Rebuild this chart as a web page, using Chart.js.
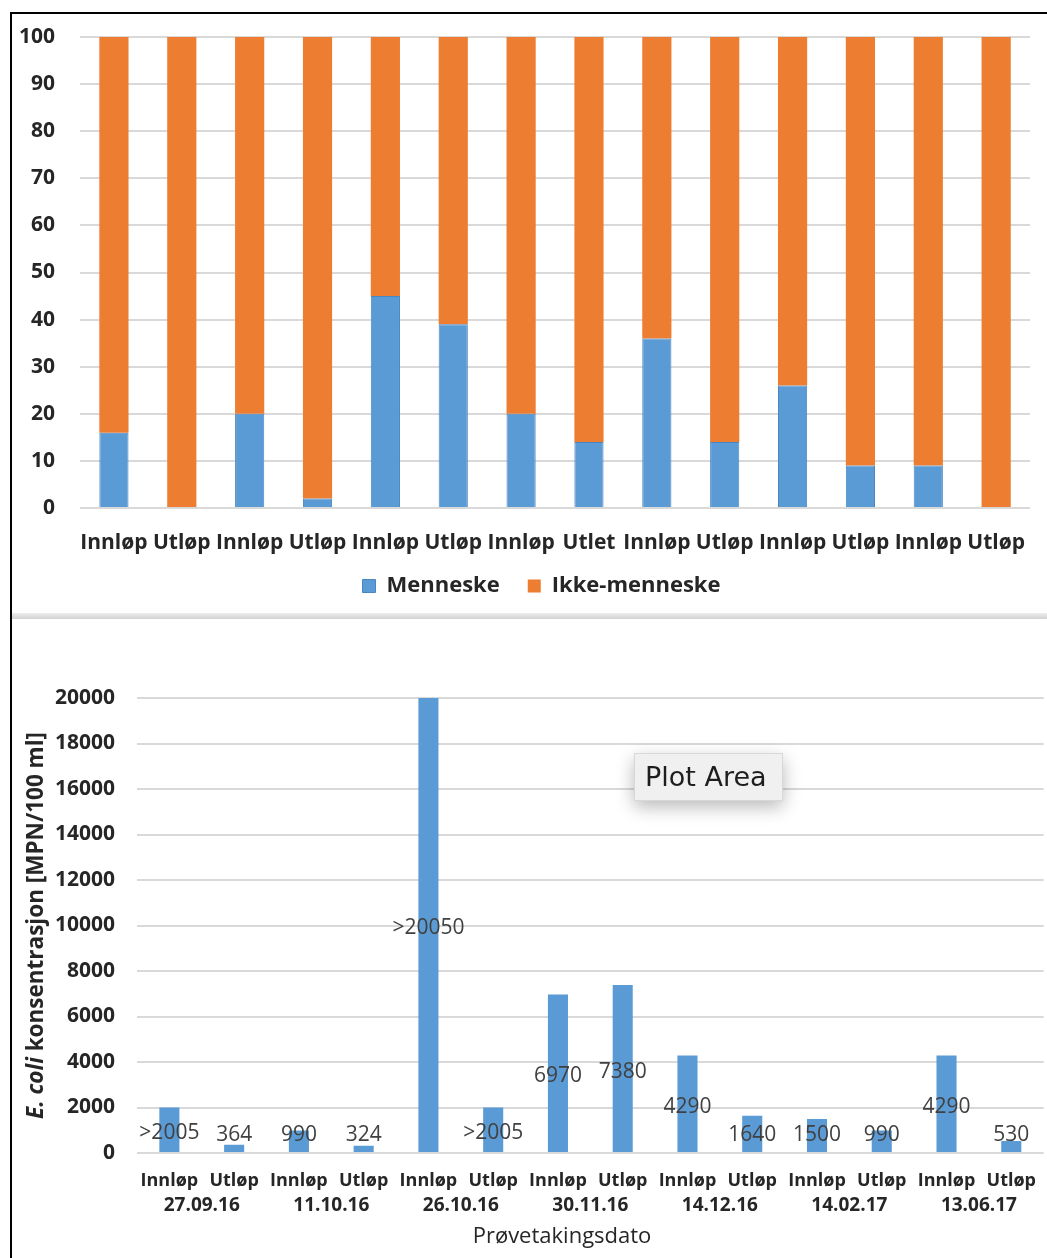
<!DOCTYPE html>
<html>
<head>
<meta charset="utf-8">
<script src="https://cdn.jsdelivr.net/npm/chart.js@4.4.1/dist/chart.umd.min.js"></script>
<style>
  html, body { margin: 0; padding: 0; background: #fff; overflow: hidden; width: 1047px; height: 1258px; }
  #frame { position: absolute; left: 10px; top: 12px; width: 1100px; height: 1300px; border-left: 2px solid #000; border-top: 2px solid #000; }
  #shareChart { position: absolute; left: 12px; top: 14px; }
  #divider { position: absolute; left: 12px; top: 613px; width: 1035px; height: 6px; background: linear-gradient(#ededed, #d2d2d2); }
  #ecoliChart { position: absolute; left: 12px; top: 622px; }
  #hint { position: absolute; left: 634px; top: 753px; width: 149px; height: 48px; box-sizing: border-box;
          background: #f0f0f0; border: 1px solid #d8d8d8; box-shadow: 0 6px 18px rgba(0,0,0,0.28);
          font: 27px "DejaVu Sans", sans-serif; color: #1e1e1e; line-height: 46px; padding-left: 10px; white-space: nowrap; }
</style>
</head>
<body>
<div id="frame"></div>
<canvas id="shareChart" width="1035" height="604"></canvas>
<div id="divider"></div>
<canvas id="ecoliChart" width="1041" height="636"></canvas>
<div id="hint">Plot Area</div>
<script>
// ---- Source share (%) per sample ----
const sampleLabels = ['Innløp', 'Utløp', 'Innløp', 'Utløp', 'Innløp', 'Utløp', 'Innløp',
                      'Utlet', 'Innløp', 'Utløp', 'Innløp', 'Utløp', 'Innløp', 'Utløp'];
const humanShare    = [16, 0, 20, 2, 45, 39, 20, 14, 36, 14, 26, 9, 9, 0];
const nonHumanShare = [84, 100, 80, 98, 55, 61, 80, 86, 64, 86, 74, 91, 91, 100];

// ---- E. coli concentration per sampling ----
const siteLabels = ['Innløp', 'Utløp', 'Innløp', 'Utløp', 'Innløp', 'Utløp', 'Innløp',
                    'Utløp', 'Innløp', 'Utløp', 'Innløp', 'Utløp', 'Innløp', 'Utløp'];
const samplingDates = ['27.09.16', '11.10.16', '26.10.16', '30.11.16', '14.12.16', '14.02.17', '13.06.17'];
const ecoliValues = [2005, 364, 990, 324, 20050, 2005, 6970, 7380, 4290, 1640, 1500, 990, 4290, 530];
const aboveLimit  = [true, false, false, false, true, true, false, false, false, false, false, false, false, false];

const BLUE = '#5b9bd5';
const ORANGE = '#ed7d31';
const GRID = '#d9d9d9';
const TEXT = '#262626';

Chart.defaults.font.family = '"Open Sans", sans-serif';
Chart.defaults.color = TEXT;

// Nudges the legend block to sit under the middle of the whole panel.
const legendNudge = {
  id: 'legendNudge',
  afterLayout(chart) {
    const lg = chart.legend;
    if (!lg) return;
    lg.left += 12; lg.right += 12;
    lg.top -= 9; lg.bottom -= 9;
  }
};

// ---------- Stacked share chart ----------
new Chart(document.getElementById('shareChart'), {
  type: 'bar',
  data: {
    labels: sampleLabels,
    datasets: [
      { label: 'Menneske', data: humanShare, backgroundColor: BLUE, borderColor: '#4a86c4',
        borderWidth: 1, barPercentage: 0.43, categoryPercentage: 1 },
      { label: 'Ikke-menneske', data: nonHumanShare, backgroundColor: ORANGE,
        barPercentage: 0.43, categoryPercentage: 1 }
    ]
  },
  options: {
    responsive: false,
    animation: false,
    layout: { padding: { top: 23, left: 0, right: 0, bottom: 2 } },
    scales: {
      x: {
        stacked: true,
        grid: { display: false, drawTicks: false },
        border: { display: false },
        ticks: { autoSkip: false, maxRotation: 0, padding: 22, color: TEXT,
                 font: { size: 21, weight: 'bold' } },
        afterFit(s) { s.height = 48; }
      },
      y: {
        stacked: true, min: 0, max: 100,
        grid: { color: GRID, lineWidth: 2, drawTicks: false },
        border: { display: false },
        ticks: { stepSize: 10, padding: 25, color: TEXT, font: { size: 21, weight: 'bold' } },
        afterFit(s) { s.width = 68; s.paddingTop = 0; s.paddingBottom = 0; }
      }
    },
    plugins: {
      legend: {
        position: 'bottom',
        labels: { boxWidth: 13, boxHeight: 13, padding: 28, color: TEXT,
                  font: { size: 22, weight: 'bold' } }
      },
      tooltip: { enabled: false }
    }
  },
  plugins: [legendNudge]
});

// ---------- E. coli concentration chart ----------
const valueLabels = {
  id: 'valueLabels',
  afterDatasetsDraw(chart) {
    const { ctx, chartArea } = chart;
    const meta = chart.getDatasetMeta(0);
    ctx.save();
    ctx.font = '21px "Open Sans", sans-serif';
    ctx.fillStyle = '#404040';
    ctx.textAlign = 'center';
    ctx.textBaseline = 'middle';
    meta.data.forEach((bar, i) => {
      const top = Math.max(bar.y, chartArea.top);
      const y = Math.min((top + bar.base) / 2 + 3, bar.base - 17);
      ctx.fillText((aboveLimit[i] ? '>' : '') + ecoliValues[i], bar.x, y);
    });
    ctx.restore();
  }
};

const yTitleItalic = 'E. coli';
const yTitleRest = ' konsentrasjon [MPN/100 ml]';
const xTitle = 'Prøvetakingsdato';
const axisTitles = {
  id: 'axisTitles',
  afterDraw(chart) {
    const { ctx, chartArea } = chart;
    const italic = 'italic bold 22.5px "Open Sans", sans-serif';
    const plain = 'bold 22.5px "Open Sans", sans-serif';
    ctx.save();
    ctx.fillStyle = TEXT;
    ctx.textBaseline = 'middle';
    // horizontal title under the date row
    ctx.font = '22px "Open Sans", sans-serif';
    ctx.textAlign = 'center';
    ctx.fillText(xTitle, 550, chart.scales.x2.bottom - 10);
    // rotated value-axis title with italic species name
    ctx.translate(24.5, (chartArea.top + chartArea.bottom) / 2);
    ctx.rotate(-Math.PI / 2);
    ctx.font = italic;
    const w1 = ctx.measureText(yTitleItalic).width;
    ctx.font = plain;
    const w2 = ctx.measureText(yTitleRest).width;
    const x0 = -(w1 + w2) / 2;
    ctx.textAlign = 'left';
    ctx.font = italic;
    ctx.fillText(yTitleItalic, x0, 0);
    ctx.font = plain;
    ctx.fillText(yTitleRest, x0 + w1, 0);
    ctx.restore();
  }
};

new Chart(document.getElementById('ecoliChart'), {
  type: 'bar',
  data: {
    labels: siteLabels,
    datasets: [
      { label: 'E. coli', data: ecoliValues, xAxisID: 'x', backgroundColor: BLUE,
        barPercentage: 0.31, categoryPercentage: 1, clip: 0 }
    ]
  },
  options: {
    responsive: false,
    animation: false,
    layout: { padding: { top: 76, left: 0, right: 0, bottom: 11 } },
    scales: {
      x: {
        weight: 0,
        grid: { display: false, drawTicks: false },
        border: { display: false },
        ticks: { autoSkip: false, maxRotation: 0, padding: 17, color: TEXT,
                 font: { size: 18, weight: 'bold' } },
        afterFit(s) { s.height = 40; }
      },
      x2: {
        type: 'category',
        labels: samplingDates,
        position: 'bottom',
        weight: 1,
        offset: true,
        grid: { display: false, drawTicks: false },
        border: { display: false },
        ticks: { autoSkip: false, maxRotation: 0, padding: 1, color: TEXT,
                 font: { size: 19, weight: 'bold' } },
        afterFit(s) { s.height = 54; }
      },
      y: {
        min: 0, max: 20000,
        grid: { color: GRID, lineWidth: 2, drawTicks: false },
        border: { display: false },
        ticks: { stepSize: 2000, padding: 22, color: TEXT, font: { size: 21, weight: 'bold' },
                 callback: (v) => String(v) },
        afterFit(s) { s.width = 125; }
      }
    },
    plugins: {
      legend: { display: false },
      tooltip: { enabled: false }
    }
  },
  plugins: [valueLabels, axisTitles]
});
</script>
</body>
</html>
